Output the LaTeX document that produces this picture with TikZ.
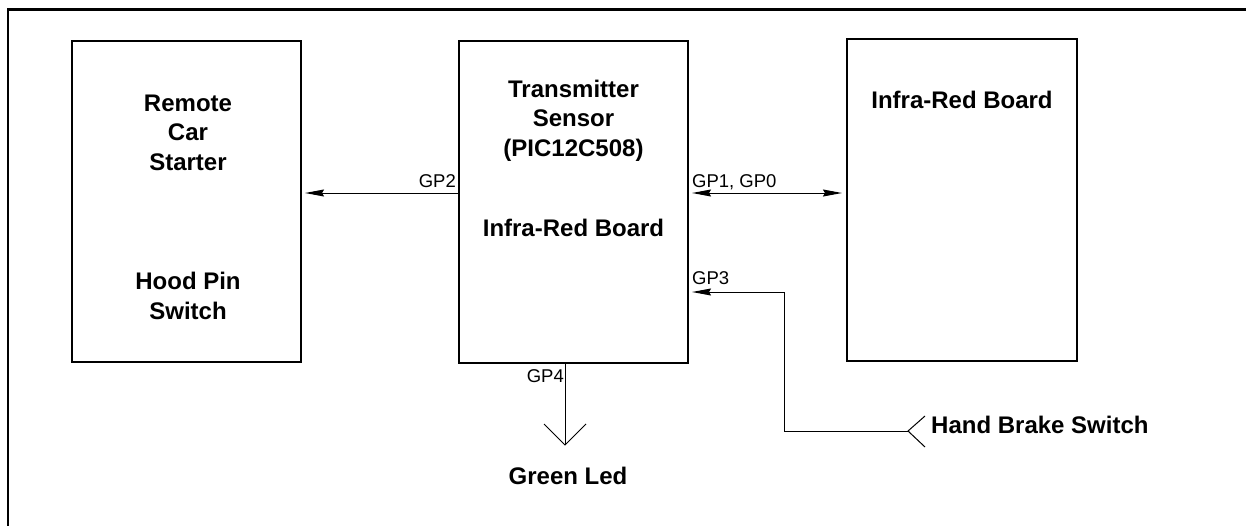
\documentclass[tikz,border=0pt]{standalone}
\usepackage{fontspec}
\setmainfont{Liberation Sans}
\usetikzlibrary{arrows.meta, positioning, calc}

\begin{document}
\begin{tikzpicture}[x=1pt, y=-1pt,
  >={Stealth[length=19pt, width=7pt, inset=2pt]},
  block/.style={draw, line width=1.1pt, inner sep=0pt},
  txt/.style={font=\bfseries\fontsize{24}{29.5}\selectfont, align=center, inner sep=0pt},
  lab/.style={font=\fontsize{18.5}{21}\selectfont, inner sep=0pt},
  sig/.style={line width=1pt, ->},
  wire/.style={line width=1pt}
]
\useasboundingbox (0,0) rectangle (1246,525);
% outer frame, it runs off the page at the right and at the bottom
\draw[line width=2.6pt] (8,530) -- (8,9.5) -- (1250,9.5);

% the three boards
\node[block, minimum width=229pt, minimum height=321pt] (starter) at (186.5,201.5) {};
\node[block, minimum width=229pt, minimum height=322pt] (pic) at (573.5,202) {};
\node[block, minimum width=230pt, minimum height=322pt] (ir) at (962,200) {};

\node[txt] (starterT) at (188,132.5) {Remote\\Car\\Starter};
\node[txt] (hood) at (188,296) {Hood Pin\\Switch};
\node[txt] (picT) at (573.5,120.5) {Transmitter\\Sensor\\(PIC12C508)};
\node[txt] (picIR) at (573.5,228) {Infra-Red Board};
\node[txt] (irT) at (962,100) {Infra-Red Board};

% GP2 and GP1, GP0
\coordinate (gp2) at (0,193);
\draw[sig, shorten >=3.5pt] (pic.west |- gp2) -- (starter.east |- gp2);
\node[lab, anchor=base east] (lgp2) at (456,187) {GP2};
\draw[sig, <->, shorten <=3.5pt, shorten >=4.5pt] (pic.east |- gp2) -- (ir.west |- gp2);
\node[lab, anchor=base west] (lgp1) at (692,187) {GP1, GP0};

% hand brake switch into GP3
\coordinate (hb) at (908,431);
\coordinate (gp3) at (784,292);
\draw[sig, shorten >=3.5pt] (hb) -| (gp3) -- (pic.east |- gp3);
\draw[wire] ($(hb)+(17,-15)$) -- (hb) -- ($(hb)+(17,16)$);
\node[lab, anchor=base west] (lgp3) at (692,284) {GP3};
\node[txt, anchor=west] (brake) at (931,425) {Hand Brake Switch};

% GP4 out to the green led
\coordinate (led) at (565,445);
\draw[wire] (pic.south -| led) -- (led);
\draw[wire] ($(led)+(-21,-21)$) -- (led) -- ($(led)+(21,-21)$);
\node[lab, anchor=base east] (lgp4) at (564,382) {GP4};
\node[txt] (green) at (568,475.5) {Green Led};
\end{tikzpicture}
\end{document}
